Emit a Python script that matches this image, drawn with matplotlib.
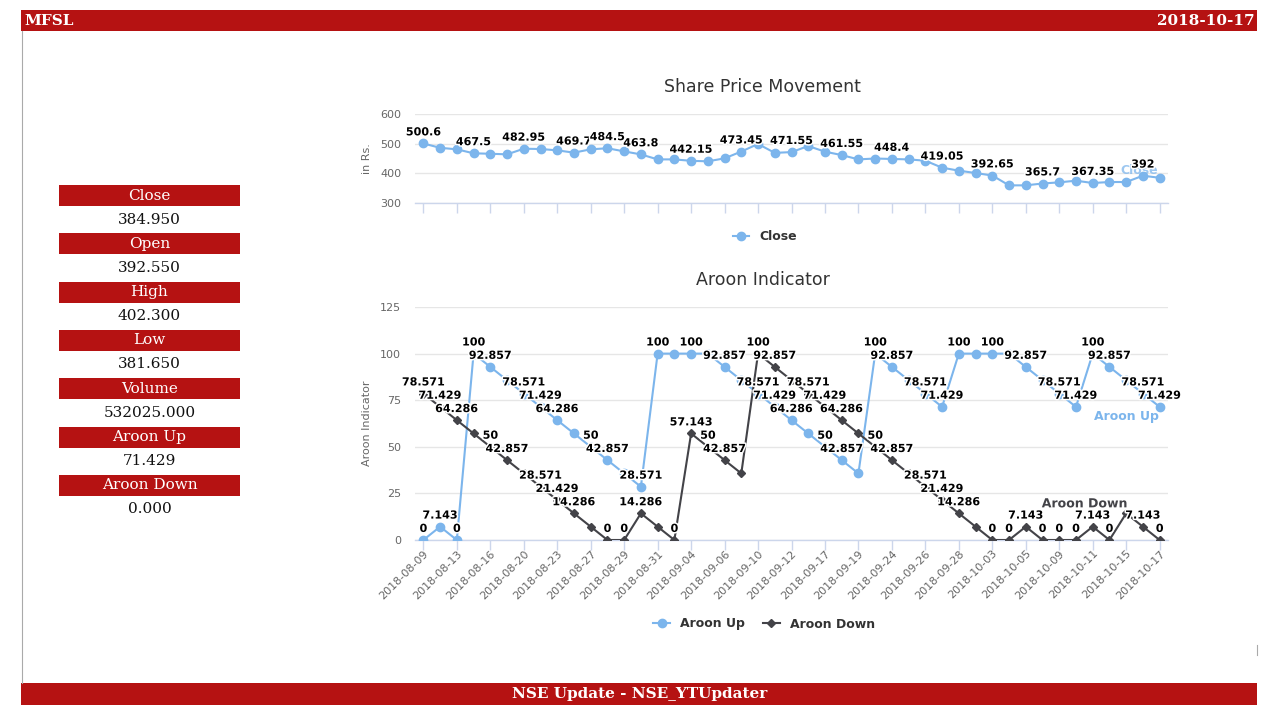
import matplotlib
matplotlib.use("Agg")
import matplotlib.pyplot as plt
import matplotlib.patheffects as pe
from matplotlib.lines import Line2D
from matplotlib.patches import Rectangle

# ---------------- data ----------------
dates = ["2018-08-09", "2018-08-10", "2018-08-13", "2018-08-14", "2018-08-16", "2018-08-17",
         "2018-08-20", "2018-08-21", "2018-08-23", "2018-08-24", "2018-08-27", "2018-08-28",
         "2018-08-29", "2018-08-30", "2018-08-31", "2018-09-03", "2018-09-04", "2018-09-05",
         "2018-09-06", "2018-09-07", "2018-09-10", "2018-09-11", "2018-09-12", "2018-09-14",
         "2018-09-17", "2018-09-18", "2018-09-19", "2018-09-21", "2018-09-24", "2018-09-25",
         "2018-09-26", "2018-09-27", "2018-09-28", "2018-10-01", "2018-10-03", "2018-10-04",
         "2018-10-05", "2018-10-08", "2018-10-09", "2018-10-10", "2018-10-11", "2018-10-12",
         "2018-10-15", "2018-10-16", "2018-10-17"]

close = [500.6, 486, 481, 467.5, 466, 464, 482.95, 482, 477.5, 469.7, 481, 484.5, 474, 463.8,
         447, 447, 442.15, 440.5, 450.5, 473.45, 499, 469, 471.55, 492, 473, 461.55, 447, 450,
         448.4, 447, 442.5, 419.05, 409, 401, 392.65, 359.5, 359.5, 365.7, 369.6, 375.2, 367.35,
         370.7, 370.7, 392, 384.95]

aroon_up = [0, 7.143, 0, 100, 92.857, 85.714, 78.571, 71.429, 64.286, 57.143, 50, 42.857,
            35.714, 28.571, 100, 100, 100, 100, 92.857, 85.714, 78.571, 71.429, 64.286, 57.143,
            50, 42.857, 35.714, 100, 92.857, 85.714, 78.571, 71.429, 100, 100, 100, 100, 92.857,
            85.714, 78.571, 71.429, 100, 92.857, 85.714, 78.571, 71.429]

aroon_down = [78.571, 71.429, 64.286, 57.143, 50, 42.857, 35.714, 28.571, 21.429, 14.286, 7.143,
              0, 0, 14.286, 7.143, 0, 57.143, 50, 42.857, 35.714, 100, 92.857, 85.714, 78.571,
              71.429, 64.286, 57.143, 50, 42.857, 35.714, 28.571, 21.429, 14.286, 7.143, 0, 0,
              7.143, 0, 0, 0, 7.143, 0, 14.286, 7.143, 0]

# indices whose data labels are visible (others hidden by overlap)
close_labels = [0, 3, 6, 9, 11, 13, 16, 19, 22, 25, 28, 31, 34, 37, 40, 43]
up_labels = [0, 1, 2, 3, 4, 6, 7, 8, 10, 11, 13, 14, 16, 18, 20, 21, 22, 24, 25, 27, 28, 30,
             31, 32, 34, 36, 38, 39, 40, 41, 43, 44]
down_labels = [0, 1, 2, 4, 5, 7, 8, 9, 11, 12, 13, 15, 16, 17, 18, 20, 21, 23, 24, 25, 27, 28,
               30, 31, 32, 34, 35, 36, 37, 38, 39, 40, 41, 43, 44]

ticker = "MFSL"
report_date = "2018-10-17"
footer = "NSE Update - NSE_YTUpdater"
table_keys = ["Close", "Open", "High", "Low", "Volume", "Aroon Up", "Aroon Down"]
table_vals = ["384.950", "392.550", "402.300", "381.650", "532025.000", "71.429", "0.000"]

# ---------------- style ----------------
RED = "#b51212"
BLUE = "#7cb5ec"
DARK = "#434348"
GRID = "#e6e6e6"
AXIS = "#ccd6eb"
TXT = "#666666"

W, H = 1280, 720
fig = plt.figure(figsize=(12.8, 7.2), dpi=100)
fig.patch.set_facecolor("white")

# overlay for page decorations (pixel coordinates)
deco = fig.add_axes([0, 0, 1, 1])
deco.set_xlim(0, W)
deco.set_ylim(H, 0)
deco.axis("off")

deco.add_patch(Rectangle((21, 10), 1236, 21, color=RED, lw=0))
deco.add_patch(Rectangle((21, 683), 1236, 22, color=RED, lw=0))
deco.plot([21.5, 21.5], [31, 683], color="#aaaaaa", lw=0.8)
deco.plot([1257, 1257], [645, 655], color="#aaaaaa", lw=0.8)
deco.text(24, 21, ticker, color="white", fontsize=11, fontweight="bold",
          family="DejaVu Serif", ha="left", va="center")
deco.text(1255, 21, report_date, color="white", fontsize=11, fontweight="bold",
          family="DejaVu Serif", ha="right", va="center")
deco.text(640, 694, footer, color="white", fontsize=11, fontweight="bold",
          family="DejaVu Serif", ha="center", va="center")

for k, (key, val) in enumerate(zip(table_keys, table_vals)):
    top = 185 + k * 48.3
    deco.add_patch(Rectangle((59, top), 181, 21, color=RED, lw=0))
    deco.text(149.5, top + 10.5, key, color="white", fontsize=11, family="DejaVu Serif",
              ha="center", va="center")
    deco.text(149.5, top + 34.5, val, color="#111111", fontsize=11, family="DejaVu Serif",
              ha="center", va="center")

outline = [pe.withStroke(linewidth=2.2, foreground="white")]
x = list(range(len(dates)))


def style_axes(ax, ymin, ymax, yticks):
    ax.set_xlim(-0.5, len(dates) - 0.5)
    ax.set_ylim(ymin, ymax)
    ax.set_yticks(yticks)
    ax.grid(axis="y", color=GRID, lw=1)
    ax.set_axisbelow(True)
    for s in ["top", "right", "left"]:
        ax.spines[s].set_visible(False)
    ax.spines["bottom"].set_color(AXIS)
    ax.spines["bottom"].set_linewidth(1)
    ax.spines["bottom"].set_zorder(1)
    ax.tick_params(axis="y", length=0, pad=10, labelsize=8, labelcolor=TXT)
    ax.tick_params(axis="x", length=7, color=AXIS, width=1, labelsize=8, labelcolor=TXT)
    ax.set_xticks(x[::2])
    ax.patch.set_alpha(0)


# ---------------- price chart ----------------
ax1 = fig.add_axes([415 / W, 1 - 203 / H, 753 / W, 89 / H])
style_axes(ax1, 300, 600, [300, 400, 500, 600])
ax1.set_xticklabels([])
ax1.text(42.8, 411, "Close", color=BLUE, alpha=0.75, fontsize=9, fontweight="bold",
         ha="center", va="center", zorder=1)
ax1.plot(x, close, color=BLUE, lw=1.5, marker="o", ms=6, zorder=3)
for i in close_labels:
    ax1.annotate(f"{close[i]:g}", (i, close[i]), xytext=(0, 8), textcoords="offset points",
                 ha="center", va="center", fontsize=8, fontweight="bold", color="black",
                 path_effects=outline, zorder=5)
ax1.set_ylabel("in Rs.", color=TXT, fontsize=8, labelpad=6)
fig.text(762 / W, 1 - 87 / H, "Share Price Movement", ha="center", va="center",
         fontsize=12.5, color="#333333")
h_close = Line2D([], [], color=BLUE, lw=1.5, marker="o", ms=6)
ax1.legend([h_close], ["Close"], loc="center", bbox_to_anchor=(765 / W, 1 - 237 / H),
           bbox_transform=fig.transFigure, frameon=False, handlelength=1.3,
           prop={"weight": "bold", "size": 9}, labelcolor="#333333")

# ---------------- aroon chart ----------------
ax2 = fig.add_axes([415 / W, 1 - 540 / H, 753 / W, 233 / H])
style_axes(ax2, 0, 125, [0, 25, 50, 75, 100, 125])
ax2.set_xticklabels(dates[::2], rotation=45, ha="right", va="top", rotation_mode="anchor")
ax2.tick_params(axis="x", pad=-1)
ax2.plot(x, aroon_up, color=BLUE, lw=1.5, marker="o", ms=6, zorder=3)
ax2.plot(x, aroon_down, color=DARK, lw=1.5, marker="D", ms=4.5, zorder=3)
for i in up_labels:
    ax2.annotate(f"{aroon_up[i]:g}", (i, aroon_up[i]), xytext=(0, 8), textcoords="offset points",
                 ha="center", va="center", fontsize=8, fontweight="bold", color="black",
                 path_effects=outline, zorder=5)
for i in down_labels:
    ax2.annotate(f"{aroon_down[i]:g}", (i, aroon_down[i]), xytext=(0, 8),
                 textcoords="offset points", ha="center", va="center", fontsize=8,
                 fontweight="bold", color="black", path_effects=outline, zorder=5)
ax2.text(42.0, 66.1, "Aroon Up", color=BLUE, fontsize=9, fontweight="bold",
         ha="center", va="center", zorder=4)
ax2.text(39.5, 19.4, "Aroon Down", color=DARK, fontsize=9, fontweight="bold",
         ha="center", va="center", zorder=4, path_effects=outline)
ax2.set_ylabel("Aroon Indicator", color=TXT, fontsize=8, labelpad=6)
fig.text(763 / W, 1 - 280 / H, "Aroon Indicator", ha="center", va="center",
         fontsize=12.5, color="#333333")
h_up = Line2D([], [], color=BLUE, lw=1.5, marker="o", ms=6)
h_dn = Line2D([], [], color=DARK, lw=1.5, marker="D", ms=4.5)
ax2.legend([h_up, h_dn], ["Aroon Up", "Aroon Down"], loc="center", ncol=2,
           bbox_to_anchor=(764 / W, 1 - 624 / H), bbox_transform=fig.transFigure,
           frameon=False, handlelength=1.3, columnspacing=1.5,
           prop={"weight": "bold", "size": 9}, labelcolor="#333333")

fig.savefig("out.png", dpi=100, facecolor="white")
